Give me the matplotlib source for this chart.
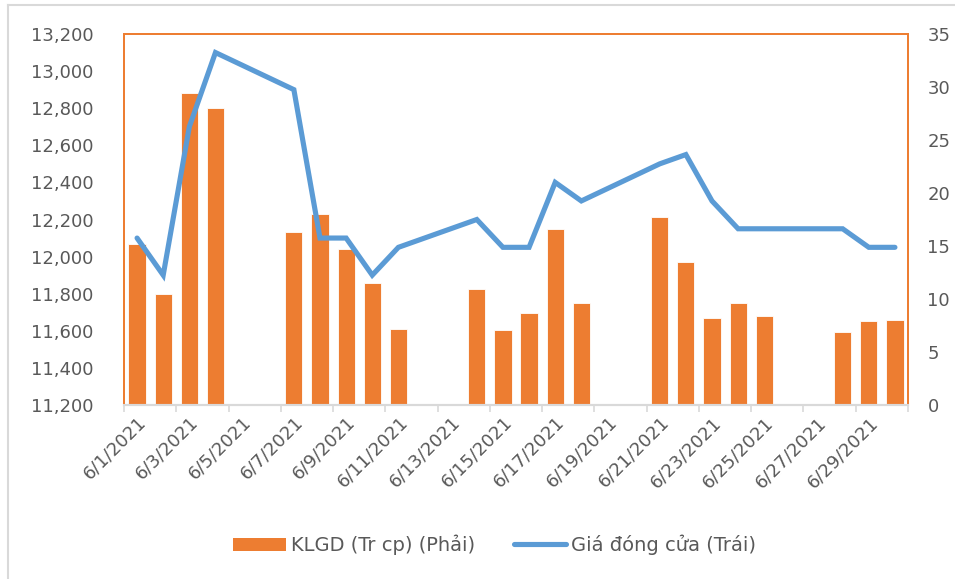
import matplotlib
matplotlib.use("Agg")
import matplotlib.pyplot as plt
from matplotlib.lines import Line2D
from matplotlib.patches import Patch
from matplotlib.ticker import FixedLocator, FuncFormatter

# =======================
# DATA
# =======================

days = list(range(1, 31))  # June 2021
tick_days = list(range(1, 31, 2))
tick_labels = [f"6/{d}/2021" for d in tick_days]

# trading days only (weekends have no data)
vol_days = [1, 2, 3, 4, 7, 8, 9, 10, 11, 14, 15, 16, 17, 18,
            21, 22, 23, 24, 25, 28, 29, 30]

# trading volume (million shares), right axis
volume = [15.2, 10.5, 29.4, 28.0, 16.3, 18.0, 14.7, 11.5, 7.2, 10.9, 7.1, 8.7,
          16.6, 9.6, 17.7, 13.5, 8.2, 9.6, 8.4, 6.9, 7.9, 8.0]

# closing price, left axis
price = [12100, 11900, 12700, 13100, 12900, 12100, 12100, 11900, 12050, 12200,
         12050, 12050, 12400, 12300, 12500, 12550, 12300, 12150, 12150, 12150,
         12050, 12050]

BAR_LABEL = "KLGD (Tr cp) (Phải)"
LINE_LABEL = "Giá đóng cửa (Trái)"

# =======================
# STYLE
# =======================

ORANGE = "#ED7D31"
BLUE = "#5B9BD5"
TEXT = "#595959"
AXIS_GRAY = "#D9D9D9"
FS = 13

plt.rcParams["font.family"] = ["DejaVu Sans"]

W, H = 955, 579
fig = plt.figure(figsize=(W / 100, H / 100), dpi=100)

# outer chart border (left + top visible)
fig.add_artist(Line2D([8 / W, 8 / W], [0, 1 - 5 / H], color=AXIS_GRAY, lw=1.5,
                      transform=fig.transFigure))
fig.add_artist(Line2D([8 / W, 1], [1 - 5 / H, 1 - 5 / H], color=AXIS_GRAY, lw=1.5,
                      transform=fig.transFigure))

left, right, bottom, top = 124 / W, 908 / W, 1 - 405 / H, 1 - 34 / H
ax = fig.add_axes([left, bottom, right - left, top - bottom])
ax2 = ax.twinx()

# bars on the right axis, drawn below the line
ax.set_zorder(2)
ax.patch.set_visible(False)
ax2.set_zorder(1)

ax2.bar(vol_days, volume, width=0.66, color=ORANGE, edgecolor="white", linewidth=0.6)
ax.plot(vol_days, price, color=BLUE, lw=3.7, solid_joinstyle="miter", solid_capstyle="round")

ax.set_xlim(0.5, 30.5)
ax.set_ylim(11200, 13200)
ax2.set_ylim(0, 35)

ax.yaxis.set_major_locator(FixedLocator(range(11200, 13201, 200)))
ax.yaxis.set_major_formatter(FuncFormatter(lambda v, p: f"{int(v):,}"))
ax2.yaxis.set_major_locator(FixedLocator(range(0, 36, 5)))

ax.set_xticks(tick_days)
ax.set_xticklabels(tick_labels, rotation=45, ha="right", rotation_mode="anchor")
ax.set_xticks([d - 0.5 for d in range(1, 32, 2)], minor=True)

ax.tick_params(axis="x", which="major", length=0, pad=6, labelsize=FS, labelcolor=TEXT)
ax.tick_params(axis="x", which="minor", length=5, color=AXIS_GRAY, width=1.2)
ax.tick_params(axis="y", length=0, pad=22, labelsize=FS, labelcolor=TEXT)
ax2.tick_params(axis="y", length=0, pad=14, labelsize=FS, labelcolor=TEXT)

for a in (ax, ax2):
    for side in ("left", "right", "top"):
        a.spines[side].set_color(ORANGE)
        a.spines[side].set_linewidth(1.3)
    a.spines["bottom"].set_color(AXIS_GRAY)
    a.spines["bottom"].set_linewidth(1.5)

handles = [
    Patch(facecolor=ORANGE, edgecolor="none", label=BAR_LABEL),
    Line2D([0], [0], color=BLUE, lw=3.7, solid_capstyle="round", label=LINE_LABEL),
]
leg = fig.legend(handles=handles, loc="center", bbox_to_anchor=(0.518, 1 - 545 / H),
                 ncol=2, frameon=False, fontsize=14, handlelength=2.7,
                 columnspacing=2.0, handletextpad=0.25)
for t in leg.get_texts():
    t.set_color(TEXT)

fig.savefig("out.png", dpi=100)
